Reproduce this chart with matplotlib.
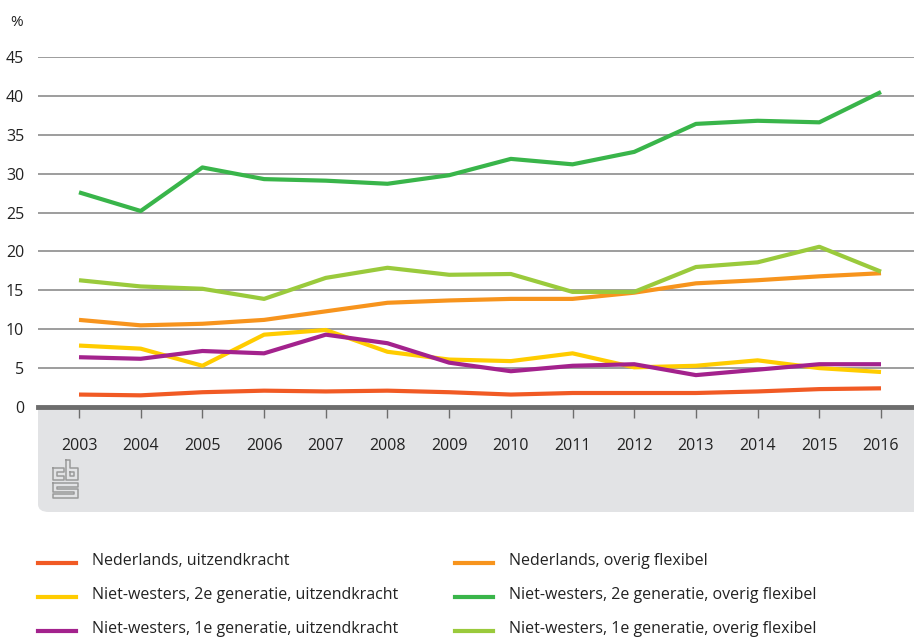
import matplotlib
matplotlib.use("Agg")
from matplotlib import pyplot as plt
from matplotlib.patches import FancyBboxPatch
from matplotlib.lines import Line2D

years = list(range(2003, 2017))

nl_uitzend = [1.6, 1.5, 1.9, 2.1, 2.0, 2.1, 1.9, 1.6, 1.8, 1.8, 1.8, 2.0, 2.3, 2.4]
nl_overig = [11.2, 10.5, 10.7, 11.2, 12.3, 13.4, 13.7, 13.9, 13.9, 14.7, 15.9, 16.3, 16.8, 17.2]
nw2_uitzend = [7.9, 7.5, 5.3, 9.3, 9.9, 7.1, 6.1, 5.9, 6.9, 5.1, 5.3, 6.0, 5.0, 4.5]
nw2_overig = [27.6, 25.2, 30.8, 29.3, 29.1, 28.7, 29.8, 31.9, 31.2, 32.8, 36.4, 36.8, 36.6, 40.5]
nw1_uitzend = [6.4, 6.2, 7.2, 6.9, 9.3, 8.2, 5.7, 4.6, 5.3, 5.5, 4.1, 4.8, 5.5, 5.5]
nw1_overig = [16.3, 15.5, 15.2, 13.9, 16.6, 17.9, 17.0, 17.1, 14.8, 14.8, 18.0, 18.6, 20.6, 17.4]

labels = ["Nederlands, uitzendkracht",
          "Niet-westers, 2e generatie, uitzendkracht",
          "Niet-westers, 1e generatie, uitzendkracht",
          "Nederlands, overig flexibel",
          "Niet-westers, 2e generatie, overig flexibel",
          "Niet-westers, 1e generatie, overig flexibel"]
series = [nl_uitzend, nw2_uitzend, nw1_uitzend, nl_overig, nw2_overig, nw1_overig]
colors = ["#F15A24", "#FFCC00", "#A3228D", "#F7941D", "#39B54A", "#9ACA3C"]

plt.rcParams['font.family'] = ['Open Sans', 'DejaVu Sans']
W, H = 914, 640
fig = plt.figure(figsize=(W / 100, H / 100), dpi=100)

def fx(px):
    return px / W

def fy(py):
    return 1 - py / H

# grey band under the axis
band = FancyBboxPatch((fx(38), fy(512)), fx(930) - fx(38), fy(390) - fy(512),
                      boxstyle="round,pad=0,rounding_size=0.012",
                      transform=fig.transFigure, facecolor="#E2E3E5",
                      edgecolor="none", zorder=0)
fig.patches.append(band)

ax = fig.add_axes([fx(38), fy(407), 1 - fx(38), (407 - 57) / H])
ax.set_zorder(1)
ax.set_facecolor("white")

for s, c in zip(series, colors):
    ax.plot(years, s, color=c, lw=3.0, solid_capstyle="butt", zorder=3)

ax.set_xlim(2003 - 41 / 61.69, 2016 + 33 / 61.69)
ax.set_ylim(0, 45)
ax.set_yticks(range(0, 50, 5))
ax.set_xticks(years)
ax.yaxis.grid(True, color="#8c8c8c", lw=1.2)
ax.set_axisbelow(True)
for sp in ["top", "right", "left"]:
    ax.spines[sp].set_visible(False)
ax.spines["bottom"].set_color("#6d6d6d")
ax.spines["bottom"].set_linewidth(3.5)
ax.spines["bottom"].set_zorder(4)
ax.tick_params(axis="y", length=0, pad=10, labelsize=11.5, labelcolor="#222222")
ax.tick_params(axis="x", direction="out", length=8, width=1, color="#6d6d6d",
               pad=14, labelsize=11.5, labelcolor="#222222")

fig.text(fx(10), fy(22), "%", fontsize=11, color="#222222", va="center")

# cbs logo (outlined shapes)
lc = "#9a9a9a"
logo = [
    [(53, 468), (64, 468), (64, 472), (57, 472), (57, 476), (64, 476), (64, 480),
     (53, 480), (53, 468)],
    [(66, 460), (70, 460), (70, 468), (78, 468), (78, 480), (66, 480), (66, 460)],
    [(70, 472), (74, 472), (74, 476), (70, 476), (70, 472)],
    [(53, 483), (78, 483), (78, 487), (57, 487), (57, 489), (78, 489), (78, 498),
     (53, 498), (53, 494), (74, 494), (74, 492), (53, 492), (53, 483)],
]
for pts in logo:
    xs = [fx(p[0]) for p in pts]
    ys = [fy(p[1]) for p in pts]
    fig.add_artist(Line2D(xs, ys, color=lc, lw=1.1, transform=fig.transFigure))

# legend
rows = [563, 597, 631]
cols = [(38, 92), (455, 509)]
for i, (lab, c) in enumerate(zip(labels, colors)):
    lx, tx = cols[i // 3]
    y = rows[i % 3]
    fig.add_artist(Line2D([fx(lx), fx(lx + 38)], [fy(y), fy(y)], color=c, lw=3,
                          transform=fig.transFigure))
    fig.text(fx(tx), fy(y - 2), lab, fontsize=11.5, color="#222222", va="center")

fig.savefig("out.png", dpi=100)
